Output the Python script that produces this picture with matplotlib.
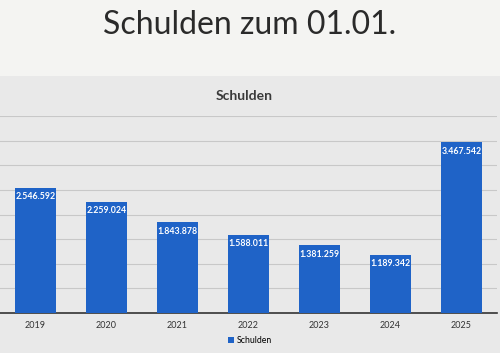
import matplotlib.pyplot as plt
from matplotlib.patches import Rectangle

# Daten
jahre = ['2019', '2020', '2021', '2022', '2023', '2024', '2025']
schulden = [2546592, 2259024, 1843878, 1588011, 1381259, 1189342, 3467542]

plt.rcParams['font.family'] = ['Lato', 'DejaVu Sans']

fig = plt.figure(figsize=(5, 3.53), dpi=100)
fig.patch.set_facecolor('#f4f4f2')

# grauer Diagrammbereich unter der Folienüberschrift
fig.patches.append(Rectangle((0, 0), 1, 0.785, transform=fig.transFigure,
                             facecolor='#e9e9e9', edgecolor='none', zorder=-10))

fig.text(0.5, 0.93, 'Schulden zum 01.01.', ha='center', va='center',
         fontsize=23, color='#2a2a2a')
fig.text(0.488, 0.728, 'Schulden', ha='center', va='center',
         fontsize=10, fontweight='bold', color='#3a3a3a')

ax = fig.add_axes([0.0, 0.113, 0.994, 0.558])
ax.set_facecolor('none')
x = range(len(jahre))
bars = ax.bar(x, schulden, width=0.57, color='#1f63c7', label='Schulden', zorder=3)

for b, v in zip(bars, schulden):
    txt = f'{v:,}'.replace(',', '.')
    ax.text(b.get_x() + b.get_width() / 2, v - 90000, txt, ha='center', va='top',
            color='white', fontsize=6.3, fontweight='bold', zorder=4)

ax.set_xlim(-0.5, 6.5)
ax.set_ylim(0, 4000000)
ax.set_yticks(range(0, 4000001, 500000))
ax.yaxis.grid(True, color='#c8c8c8', linewidth=0.8, zorder=0)
ax.tick_params(axis='y', left=False, labelleft=False)
ax.set_xticks(list(x))
ax.set_xticklabels(jahre, fontsize=6.5, color='#333333')
ax.tick_params(axis='x', length=0, pad=6)
for s in ['top', 'right', 'left']:
    ax.spines[s].set_visible(False)
ax.spines['bottom'].set_color('#333333')
ax.spines['bottom'].set_linewidth(1.2)

fig.legend(loc='lower center', bbox_to_anchor=(0.5, 0.0), frameon=False,
           fontsize=6.3, handlelength=0.7, handleheight=0.7, handletextpad=0.4)

fig.savefig('out.png', dpi=100)
